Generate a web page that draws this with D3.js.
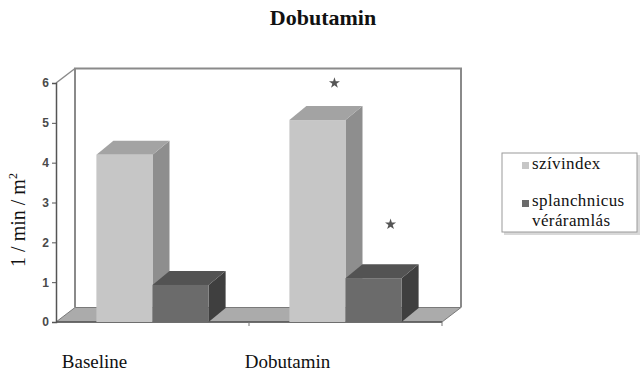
<!DOCTYPE html>
<html>
<head>
<meta charset="utf-8">
<script src="https://cdn.jsdelivr.net/npm/d3@7"></script>
<style>
  html, body { margin: 0; padding: 0; background: #fff; }
  svg { display: block; }
  .serif, .serif tspan { font-family: 'Liberation Serif', 'Times New Roman', serif; }
</style>
</head>
<body>
<div id="chart"></div>
<script>
// Cardiac index and splanchnic blood flow, baseline vs. dobutamine
const categories = ["Baseline", "Dobutamin"];
const seriesNames = ["szívindex", "splanchnicus véráramlás"];
const szivindex = [4.2, 5.07];
const splanchnicus = [0.93, 1.1];
// significance markers (value level where the star sits; null = none)
const starsSziv = [null, 6.0];
const starsSplanch = [null, 2.45];
const yTicks = [0, 1, 2, 3, 4, 5, 6];

const W = 643, H = 377;
const svg = d3.select("#chart").append("svg")
  .attr("width", W).attr("height", H);

// plot frame
const plotLeft = 56, plotRight = 442, plotBottom = 322, plotTop = 83;
const depth = { dx: 19, dy: -14.5 };   // back wall offset
const bd = { dx: 17, dy: -14 };        // bar depth

const y = d3.scaleLinear().domain([0, 6]).range([plotBottom, plotTop]);
const x0 = d3.scaleBand().domain(categories).range([plotLeft, plotRight]).paddingInner(0).paddingOuter(0);
const x1 = d3.scaleBand().domain(seriesNames).range([0, x0.bandwidth()]).paddingInner(0).paddingOuter(0.72);

const wallStroke = "#8a8a8a";

// floor
const floorPts = [
  [plotLeft, plotBottom], [plotRight, plotBottom],
  [plotRight + depth.dx, plotBottom + depth.dy], [plotLeft + depth.dx, plotBottom + depth.dy]
];
svg.append("polygon")
  .attr("points", floorPts.map(p => p.join(",")).join(" "))
  .attr("fill", "#ababab").attr("stroke", "#7a7a7a").attr("stroke-width", 1);

// back wall outline (top, right, left back edge)
const bx0 = plotLeft + depth.dx, bx1 = plotRight + depth.dx;
const by0 = y(6) + depth.dy, by1 = plotBottom + depth.dy;
svg.append("path")
  .attr("d", `M${bx0},${by1} L${bx0},${by0} L${bx1},${by0} L${bx1},${by1}`)
  .attr("fill", "none").attr("stroke", wallStroke).attr("stroke-width", 2);

// left wall top diagonal
svg.append("line")
  .attr("x1", plotLeft).attr("y1", y(6)).attr("x2", bx0).attr("y2", by0)
  .attr("stroke", wallStroke).attr("stroke-width", 1.5);

// y axis (front edge of left wall)
const yAxis = d3.axisLeft(y).tickValues(yTicks).tickSize(4).tickPadding(3).tickFormat(d3.format("d"));
const gy = svg.append("g").attr("transform", `translate(${plotLeft},0)`).call(yAxis);
gy.select(".domain").attr("stroke", "#555").attr("stroke-width", 1.5);
gy.selectAll(".tick line").attr("stroke", "#555");
gy.selectAll(".tick text")
  .attr("fill", "#4a4a4a")
  .attr("font-family", "'Liberation Sans', Arial, sans-serif")
  .attr("font-size", 12).attr("font-weight", "bold");

// x axis baseline with category ticks
const xTickPos = categories.map(c => x0(c) + x0.bandwidth());
svg.append("line")
  .attr("x1", plotLeft).attr("x2", plotRight).attr("y1", plotBottom).attr("y2", plotBottom)
  .attr("stroke", "#555").attr("stroke-width", 1.5);
svg.selectAll(".xtick").data(xTickPos).enter().append("line")
  .attr("x1", d => d).attr("x2", d => d).attr("y1", plotBottom).attr("y2", plotBottom + 4)
  .attr("stroke", "#777").attr("stroke-width", 1);

// bars
const colors = {
  "szívindex": { front: "#c6c6c6", top: "#a3a3a3", side: "#8e8e8e" },
  "splanchnicus véráramlás": { front: "#6b6b6b", top: "#535353", side: "#3f3f3f" }
};
const bars = [];
categories.forEach((c, i) => {
  bars.push({ cat: c, s: seriesNames[0], v: szivindex[i], star: starsSziv[i] });
  bars.push({ cat: c, s: seriesNames[1], v: splanchnicus[i], star: starsSplanch[i] });
});

const gb = svg.append("g");
bars.forEach(b => {
  const xa = x0(b.cat) + x1(b.s), xb = xa + x1.bandwidth();
  const yTop = y(b.v), yBase = y(0);
  const col = colors[b.s];
  // right side
  gb.append("polygon")
    .attr("points", [[xb, yBase], [xb + bd.dx, yBase + bd.dy], [xb + bd.dx, yTop + bd.dy], [xb, yTop]].map(p => p.join(",")).join(" "))
    .attr("fill", col.side);
  // top
  gb.append("polygon")
    .attr("points", [[xa, yTop], [xb, yTop], [xb + bd.dx, yTop + bd.dy], [xa + bd.dx, yTop + bd.dy]].map(p => p.join(",")).join(" "))
    .attr("fill", col.top);
  // front
  gb.append("rect")
    .attr("x", xa).attr("y", yTop).attr("width", xb - xa).attr("height", yBase - yTop)
    .attr("fill", col.front);
});

// significance stars
const star = d3.symbol().type(d3.symbolStar).size(38);
bars.filter(b => b.star != null).forEach(b => {
  const cx = x0(b.cat) + x1(b.s) + x1.bandwidth() / 2 + bd.dx;
  svg.append("path").attr("d", star)
    .attr("transform", `translate(${cx},${y(b.star)})`)
    .attr("fill", "#555");
});

// category labels
svg.selectAll(".cat").data(categories).enter().append("text")
  .attr("class", "serif")
  .attr("x", d => x0(d) + x0.bandwidth() / 2 - 58)
  .attr("y", 368)
  .attr("text-anchor", "middle")
  .attr("font-size", 19)
  .attr("fill", "#111")
  .text(d => d);

// title
svg.append("text")
  .attr("class", "serif")
  .attr("x", 323).attr("y", 25)
  .attr("text-anchor", "middle")
  .attr("font-size", 22).attr("font-weight", "bold")
  .attr("fill", "#111")
  .text("Dobutamin");

// y axis title
const yTitle = svg.append("text")
  .attr("class", "serif")
  .attr("transform", "translate(25,220) rotate(-90)")
  .attr("text-anchor", "middle")
  .attr("font-size", 20)
  .attr("fill", "#111");
yTitle.append("tspan").text("1 / min / m");
yTitle.append("tspan").attr("dy", -8).attr("font-size", 12).text("2");

// legend
const lg = svg.append("g");
lg.append("rect").attr("x", 504).attr("y", 155).attr("width", 136).attr("height", 80).attr("fill", "#d8d8d8");
lg.append("rect").attr("x", 502).attr("y", 153).attr("width", 135).attr("height", 79)
  .attr("fill", "#fff").attr("stroke", "#9a9a9a").attr("stroke-width", 1);
const legendRows = [
  { name: seriesNames[0], lines: ["szívindex"], sy: 162, ty: 169 },
  { name: seriesNames[1], lines: ["splanchnicus", "véráramlás"], sy: 200, ty: 206 }
];
legendRows.forEach(r => {
  lg.append("rect").attr("x", 522).attr("y", r.sy).attr("width", 7).attr("height", 7)
    .attr("fill", colors[r.name].front);
  r.lines.forEach((ln, k) => {
    lg.append("text")
      .attr("class", "serif")
      .attr("x", 532).attr("y", r.ty + k * 20)
      .attr("font-size", 17).attr("letter-spacing", 0.4).attr("fill", "#111")
      .text(ln);
  });
});
</script>
</body>
</html>
